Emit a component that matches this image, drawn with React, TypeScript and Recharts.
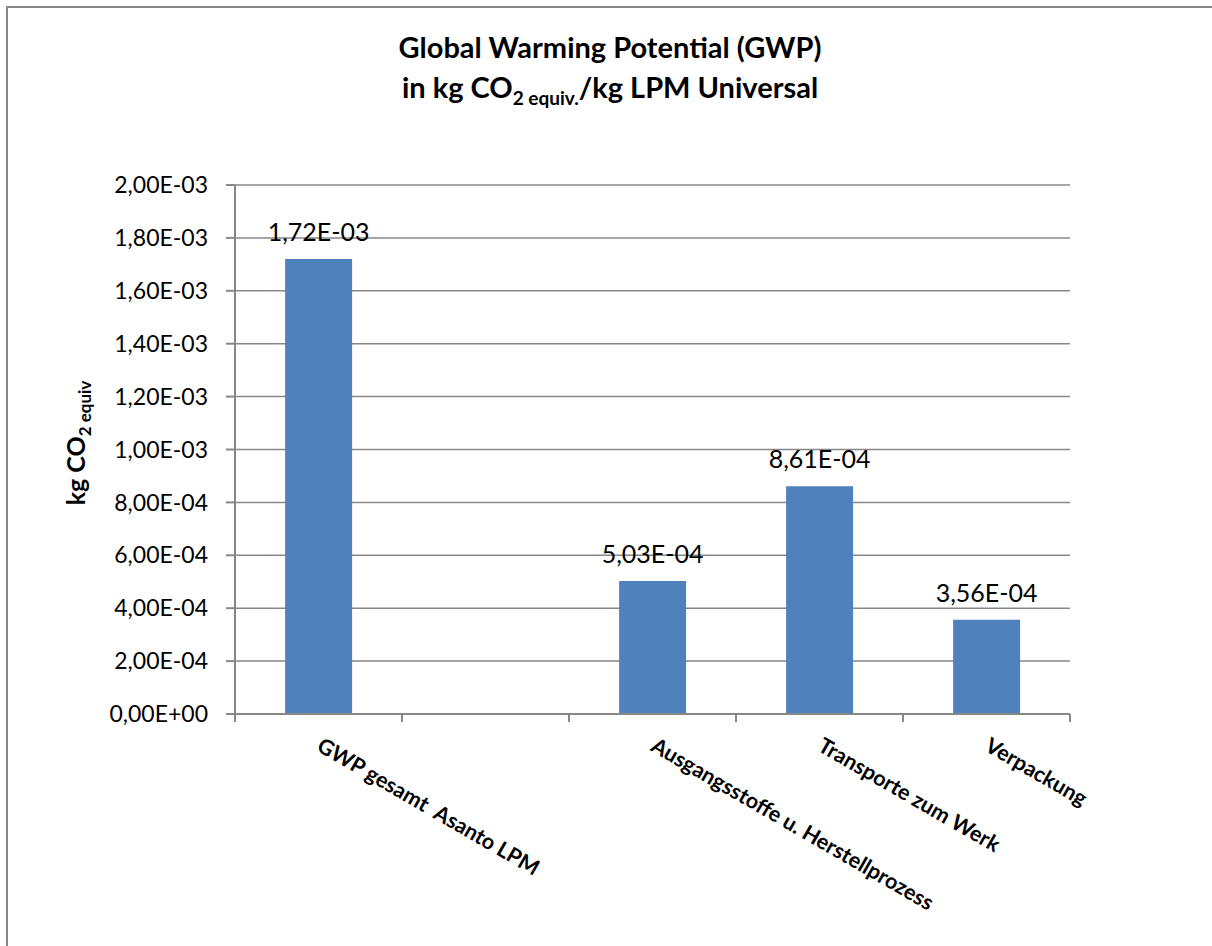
import React from 'react';
import { BarChart, Bar, XAxis, YAxis, CartesianGrid, LabelList } from 'recharts';

const categories = [
  'GWP gesamt  Asanto LPM',
  '',
  'Ausgangsstoffe u. Herstellprozess',
  'Transporte zum Werk',
  'Verpackung',
];
const gwpValues = [1.72e-3, null, 5.03e-4, 8.61e-4, 3.56e-4];
const yTicks = [0, 0.0002, 0.0004, 0.0006, 0.0008, 0.001, 0.0012, 0.0014, 0.0016, 0.0018, 0.002];

const chartData = categories.map((name, i) => ({ name, gwp: gwpValues[i] }));

const GRAY = '#878787';
const FONT = 'Lato, "Open Sans", sans-serif';

// 1.72e-3 -> "1,72E-03" (Excel style)
const fmt = (v: any) => {
  if (v === null || v === undefined || v === '') return '';
  const [m, e] = Number(v).toExponential(2).split('e');
  const n = parseInt(e, 10);
  return m.replace('.', ',') + 'E' + (n < 0 ? '-' : '+') + String(Math.abs(n)).padStart(2, '0');
};

// category label rotated 30deg + tick marks on the band edges (Excel style)
const CategoryTick = (props: any) => {
  const { x, y, payload, width, visibleTicksCount, index } = props;
  const band = width && visibleTicksCount ? width / visibleTicksCount : 2 * (payload.offset || 0);
  const left = x - band / 2;
  const right = x + band / 2;
  const isLast = index === visibleTicksCount - 1;
  const tx = x - 3;
  const ty = y + 36;
  return (
    <g>
      <line x1={left} y1={y} x2={left} y2={y + 8} stroke={GRAY} strokeWidth={2} />
      {isLast && <line x1={right} y1={y} x2={right} y2={y + 8} stroke={GRAY} strokeWidth={2} />}
      <text
        x={tx}
        y={ty}
        transform={`rotate(30, ${tx}, ${ty})`}
        textAnchor="start"
        fontFamily={FONT}
        fontWeight={700}
        fontSize={21.5}
        fill="#000"
        style={{ whiteSpace: 'pre' }}
      >
        {payload.value}
      </text>
    </g>
  );
};

export default function App() {
  return (
    <div
      style={{
        position: 'absolute',
        left: 0,
        top: 0,
        width: 1212,
        height: 946,
        overflow: 'hidden',
        background: '#fff',
        fontFamily: FONT,
      }}
    >
      <div
        style={{
          position: 'absolute',
          left: 6,
          top: 6,
          width: 1240,
          height: 980,
          border: `2px solid ${GRAY}`,
          boxSizing: 'border-box',
        }}
      />
      <div style={{ position: 'absolute', left: 0, top: 0 }}>
        <BarChart
          width={1212}
          height={946}
          data={chartData}
          margin={{ top: 185, right: 142, left: 135, bottom: 32 }}
          barCategoryGap="30%"
        >
          <CartesianGrid vertical={false} stroke={GRAY} strokeWidth={1.5} />
          <XAxis
            dataKey="name"
            interval={0}
            stroke={GRAY}
            strokeWidth={2}
            tickLine={false}
            tickSize={0}
            tickMargin={0}
            height={200}
            tick={<CategoryTick />}
          />
          <YAxis
            domain={[0, 0.002]}
            ticks={yTicks}
            width={100}
            tickSize={9}
            tickMargin={18}
            stroke={GRAY}
            strokeWidth={2}
            tickFormatter={fmt}
            tick={{ fill: '#000', fontSize: 23, fontFamily: FONT }}
          />
          <Bar dataKey="gwp" fill="#4F81BD" isAnimationActive={false}>
            <LabelList
              dataKey="gwp"
              position="top"
              offset={18}
              formatter={fmt}
              fill="#000"
              fontSize={25}
              fontFamily={FONT}
            />
          </Bar>
        </BarChart>
      </div>
      <div
        style={{
          position: 'absolute',
          left: 4,
          top: 27,
          width: 1212,
          textAlign: 'center',
          fontWeight: 700,
          fontSize: 29,
          lineHeight: '40px',
          color: '#000',
        }}
      >
        <div>Global Warming Potential (GWP)</div>
        <div>
          in kg CO
          <span style={{ fontSize: 19, position: 'relative', top: 7 }}>2 equiv.</span>
          /kg LPM Universal
        </div>
      </div>
      <div
        style={{
          position: 'absolute',
          left: 77,
          top: 443,
          transform: 'translate(-50%, -50%) rotate(-90deg)',
          whiteSpace: 'nowrap',
          fontWeight: 700,
          fontSize: 25,
          lineHeight: '30px',
          color: '#000',
        }}
      >
        kg CO
        <span style={{ fontSize: 17, position: 'relative', top: 6 }}>2 equiv</span>
      </div>
    </div>
  );
}
